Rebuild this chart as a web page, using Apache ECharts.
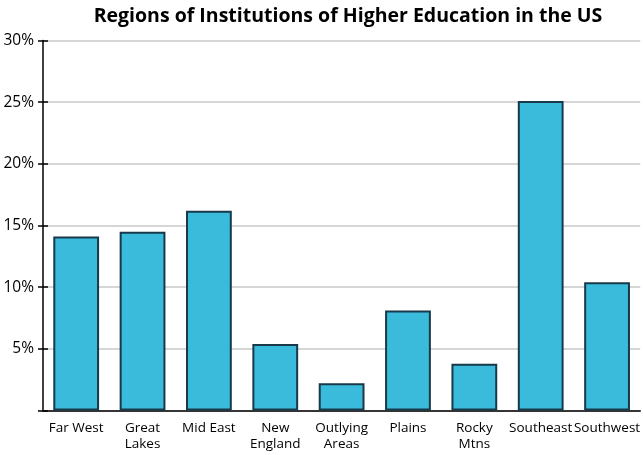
<!DOCTYPE html>
<html><head><meta charset="utf-8">
<script src="https://cdn.jsdelivr.net/npm/echarts@6/dist/echarts.min.js"></script>
<style>html,body{margin:0;padding:0;background:#fff}#c{width:643px;height:455px}</style>
</head><body><div id="c"></div>
<script>
const categories = ['Far West','Great\nLakes','Mid East','New\nEngland','Outlying\nAreas','Plains','Rocky\nMtns','Southeast','Southwest'];
const values = [14.1, 14.5, 16.2, 5.4, 2.2, 8.1, 3.8, 25.1, 10.4];
const titleText = 'Regions of Institutions of Higher Education in the US';
const font = '"Open Sans", "Noto Sans", sans-serif';
const chart = echarts.init(document.getElementById('c'), null, {renderer:'canvas'});
chart.setOption({
  animation:false,
  title:{text:titleText, left:343, top:1, textAlign:'center',
    textStyle:{fontFamily:font, fontSize:19.5, fontWeight:'bold', color:'#000'}},
  grid:{left:43, right:0, top:40.5, bottom:44.5, containLabel:false},
  xAxis:{type:'category', data:categories,
    axisLine:{lineStyle:{color:'#000', width:1.5}}, axisTick:{show:false},
    axisLabel:{fontFamily:font, fontSize:13.5, color:'#000', lineHeight:16, margin:10, interval:0}},
  yAxis:[{type:'value', min:0, max:30, interval:5,
    axisLine:{show:true, lineStyle:{color:'#000', width:1.5}},
    axisTick:{show:true, length:5, lineStyle:{color:'#000', width:1.5}},
    splitLine:{lineStyle:{color:'#c8c8c8', width:1.5}},
    axisLabel:{fontFamily:font, fontSize:15.5, color:'#000', margin:9,
      formatter:v=> v===0 ? '' : v+'%'}},
   {type:'value', min:0, max:30, interval:5, position:'left',
    axisLine:{show:false}, axisTick:{show:true, inside:true, length:5, lineStyle:{color:'#000', width:1.5}},
    splitLine:{show:false}, axisLabel:{show:false}}],
  series:[{type:'bar', data:values, barWidth:'69%',
    itemStyle:{color:'#3bbbdb', borderColor:'#17394a', borderWidth:2}}]
});
</script></body></html>
